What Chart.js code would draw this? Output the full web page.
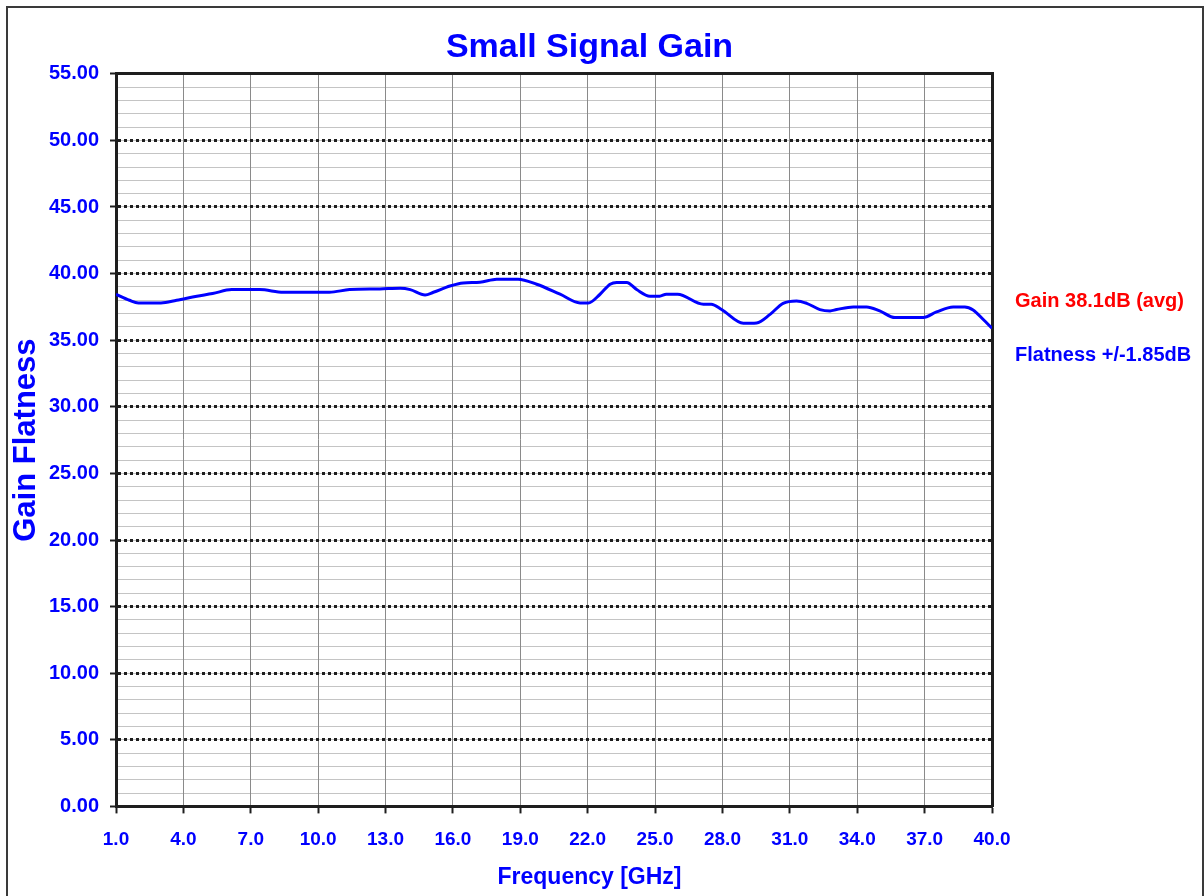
<!DOCTYPE html>
<html>
<head>
<meta charset="utf-8">
<script src="https://cdn.jsdelivr.net/npm/chart.js@4.4.1/dist/chart.umd.min.js"></script>
<style>
html, body { margin: 0; padding: 0; background: #ffffff; }
#wrap { position: relative; width: 1204px; height: 896px; overflow: hidden; background: #ffffff; }
#frame { position: absolute; left: 6px; top: 6px; width: 1198px; height: 1000px; border: 2px solid #3a3a3a; box-sizing: border-box; }
#c { position: absolute; left: 0; top: 0; }
</style>
</head>
<body>
<div id="wrap">
  <div id="frame"></div>
  <canvas id="c" width="1204" height="896"></canvas>
</div>
<script>
// ---- Data ----
const frequencyGHz = [
  1.0, 1.6, 2.0, 3.0, 3.7, 4.6, 5.3, 6.15, 7.4, 8.45, 10.5, 11.4, 12.75, 13.65, 14.1,
  14.76, 15.13, 15.87, 16.46, 17.2, 17.95, 18.9, 19.73, 20.77, 21.66, 22.03, 22.55,
  23.0, 23.29, 23.74, 24.18, 24.77, 25.2, 25.5, 26.0, 27.15, 27.5, 27.96, 28.93, 29.52,
  30.12, 30.7, 31.3, 31.75, 32.34, 32.79, 33.08, 33.82, 34.42, 35.0, 35.68, 36.94,
  37.53, 38.27, 38.79, 39.16, 39.6, 40.0
];
const gainDB = [
  38.45, 38.0, 37.8, 37.8, 38.0, 38.3, 38.5, 38.8, 38.8, 38.6, 38.6, 38.8, 38.85, 38.9, 38.8,
  38.4, 38.6, 39.07, 39.3, 39.35, 39.58, 39.58, 39.2, 38.45, 37.8, 37.8, 38.45,
  39.2, 39.33, 39.33, 38.8, 38.3, 38.3, 38.45, 38.45, 37.7, 37.7, 37.3, 36.27, 36.3,
  36.94, 37.77, 37.95, 37.77, 37.3, 37.2, 37.3, 37.5, 37.5, 37.2, 36.7, 36.7,
  37.12, 37.5, 37.5, 37.27, 36.57, 35.9
];
const xTickValues = [1, 4, 7, 10, 13, 16, 19, 22, 25, 28, 31, 34, 37, 40];
const yTickValues = [0, 5, 10, 15, 20, 25, 30, 35, 40, 45, 50, 55];
const annotationLabels = ['Gain 38.1dB (avg)', 'Flatness +/-1.85dB'];
const annotationValues = [37.87, 33.89];
const annotationColors = ['#ff0000', '#0000ff'];

const FONT = '"Liberation Sans", Arial, Helvetica, sans-serif';
const BLUE = '#0000ff';
const DARK = '#1e1e1e';
Chart.defaults.font.family = FONT;

new Chart(document.getElementById('c'), {
  type: 'line',
  data: {
    datasets: [{
      data: frequencyGHz.map((f, i) => ({ x: f, y: gainDB[i] })),
      borderColor: BLUE,
      borderWidth: 3,
      pointRadius: 0,
      fill: false,
      cubicInterpolationMode: 'monotone',
      xAxisID: 'x',
      yAxisID: 'y'
    }]
  },
  options: {
    responsive: false,
    animation: false,
    devicePixelRatio: 1,
    layout: { padding: { left: -16, right: 9, top: 0, bottom: 0 } },
    plugins: {
      legend: { display: false },
      tooltip: { enabled: false },
      title: {
        display: true,
        text: 'Small Signal Gain',
        color: BLUE,
        font: { size: 34, weight: 'bold' },
        padding: { top: 27, bottom: 6 }
      },
      subtitle: {
        display: true,
        position: 'bottom',
        text: 'Frequency [GHz]',
        color: BLUE,
        font: { size: 23, weight: 'bold' },
        padding: { top: 5, bottom: 5 }
      }
    },
    scales: {
      yMinor: {
        type: 'linear', position: 'left', min: 0, max: 55,
        ticks: { display: false, stepSize: 1, maxTicksLimit: 100 },
        grid: { color: '#c4c4c4', lineWidth: 1, drawTicks: false, z: -3 },
        border: { display: false },
        afterFit: s => { s.width = 0; }
      },
      y: {
        type: 'linear', position: 'left', min: 0, max: 55,
        afterBuildTicks: s => { s.ticks = yTickValues.map(v => ({ value: v })); },
        ticks: {
          color: BLUE,
          font: { size: 20, weight: 'bold' },
          padding: 11,
          callback: v => Number(v).toFixed(2)
        },
        grid: { color: DARK, lineWidth: 3, tickColor: DARK, tickWidth: 2, tickLength: 6, z: -1 },
        border: { display: true, color: DARK, width: 3, dash: [3, 3] },
        title: {
          display: true, text: 'Gain Flatness', color: BLUE,
          font: { size: 31, weight: 'bold' }, padding: { top: 24, bottom: 0 }
        },
        afterFit: s => { s.width = 132; }
      },
      yNote: {
        type: 'linear', position: 'right', min: 0, max: 55,
        afterBuildTicks: s => { s.ticks = annotationValues.map(v => ({ value: v })); },
        ticks: {
          padding: 23,
          color: ctx => annotationColors[ctx.index],
          font: { size: 20, weight: 'bold' },
          callback: (v, i) => annotationLabels[i]
        },
        grid: { drawOnChartArea: false, drawTicks: false },
        border: { display: true, color: DARK, width: 3 },
        afterFit: s => { s.width = 203; }
      },
      x: {
        type: 'linear', position: 'bottom', min: 1, max: 40,
        afterBuildTicks: s => { s.ticks = xTickValues.map(v => ({ value: v })); },
        ticks: {
          color: BLUE,
          font: { size: 19, weight: 'bold' },
          padding: 15,
          maxRotation: 0,
          autoSkip: false,
          callback: v => Number(v).toFixed(1)
        },
        grid: { color: '#8a8a8a', lineWidth: 1, tickColor: DARK, tickWidth: 2, tickLength: 7, z: -2 },
        border: { display: true, color: DARK, width: 3 },
        afterFit: s => { s.height = 52; }
      },
      xTop: {
        type: 'linear', position: 'top', min: 1, max: 40,
        ticks: { display: false },
        grid: { drawOnChartArea: false, drawTicks: false },
        border: { display: true, color: DARK, width: 3 },
        afterFit: s => { s.height = 0; }
      }
    }
  }
});
</script>
</body>
</html>
